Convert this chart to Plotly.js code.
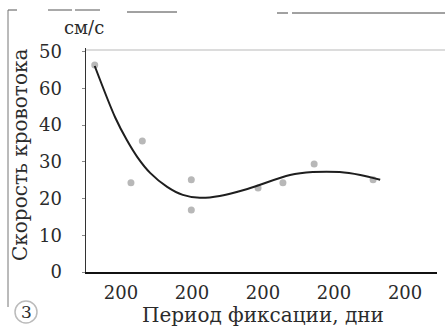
<!DOCTYPE html>
<html>
<head>
<meta charset="utf-8">
<script src="https://cdn.plot.ly/plotly-3.0.1.min.js"></script>
<style>html,body{margin:0;padding:0;background:#fff;}#chart{width:445px;height:327px;}</style>
</head>
<body>
<div id="chart"></div>
<script>
// Measured points (x in tick units, tick 1..5 all labelled "200")
var pointX = [0.63, 1.14, 1.30, 1.99, 1.99, 2.93, 3.28, 3.72, 4.55];
var pointY = [56.4, 24.3, 35.7, 25.1, 16.9, 22.9, 24.3, 29.4, 25.1];

// Fitted curve
var curveX = [0.63, 0.92, 1.08, 1.23, 1.41, 1.65, 1.87, 2.11, 2.39, 2.78, 3.38, 3.70, 4.08, 4.37, 4.65];
var curveY = [56.1, 42.0, 36.0, 31.3, 27.0, 23.2, 21.0, 20.2, 20.7, 22.6, 26.4, 27.2, 27.2, 26.4, 25.1];

var xTickVals = [1, 2, 3, 4, 5];
var xTickText = ["200", "200", "200", "200", "200"];
var yTickVals = [0, 10, 20, 30, 40, 50, 60];
var yTickText = ["0", "10", "20", "30", "40", "60", "50"];

var yTitle = "Скорость кровотока";
var xTitle = "Период фиксации, дни";
var unitText = "см/с";
var panelLabel = "3";

var L = 86, T = 48, W = 351, H = 224;
function px(p) { return (p - L) / W; }
function py(p) { return (T + H - p) / H; }

var font = "DejaVu Serif, Liberation Serif, serif";
var ink = "#2b2b2b";

var traces = [
  {x: pointX, y: pointY, mode: "markers", type: "scatter",
   marker: {size: 7, color: "#b8b8b8"}, hoverinfo: "skip"},
  {x: curveX, y: curveY, mode: "lines", type: "scatter",
   line: {color: "#1e1e1e", width: 2, shape: "spline", smoothing: 0.9}, hoverinfo: "skip"}
];

function hline(x0, x1, y, color, w) {
  return {type: "line", xref: "paper", yref: "paper", x0: px(x0), x1: px(x1), y0: py(y), y1: py(y),
          line: {color: color, width: w}};
}
function vline(x, y0, y1, color, w) {
  return {type: "line", xref: "paper", yref: "paper", x0: px(x), x1: px(x), y0: py(y0), y1: py(y1),
          line: {color: color, width: w}};
}

var layout = {
  width: 445, height: 327,
  margin: {l: L, r: 445 - L - W, t: T, b: 327 - T - H, pad: 0},
  paper_bgcolor: "#fff", plot_bgcolor: "#fff",
  showlegend: false,
  font: {family: font, size: 17, color: ink},
  xaxis: {range: [0.507, 5.45], tickvals: xTickVals, ticktext: xTickText,
          showgrid: false, zeroline: false, showline: true, linecolor: "#111", linewidth: 1.5,
          ticks: "", ticklabelstandoff: 4, tickfont: {family: font, size: 18, color: ink}, fixedrange: true},
  yaxis: {range: [0, 61], tickvals: yTickVals, ticktext: yTickText,
          showgrid: false, zeroline: false, showline: true, linecolor: "#333", linewidth: 1.5,
          ticks: "outside", ticklen: 3, tickcolor: "#888", ticklabelstandoff: 16,
          tickfont: {family: font, size: 18, color: ink}, fixedrange: true},
  shapes: [
    hline(86, 445, 50, "#dcdcdc", 2),
    hline(8, 17, 10, "#555", 1),
    vline(8, 10, 307, "#777", 1),
    hline(48, 72, 10, "#555", 1),
    hline(75, 100, 10, "#555", 1),
    hline(127, 177, 12, "#444", 1),
    hline(277, 288, 13, "#444", 1),
    hline(292, 445, 13, "#444", 1),
    {type: "circle", xref: "paper", yref: "paper", x0: px(15), x1: px(37), y0: py(323), y1: py(301),
     line: {color: "#bbb", width: 1.5}}
  ],
  annotations: [
    {text: unitText, xref: "paper", yref: "paper", x: px(84), y: py(27), showarrow: false,
     xanchor: "center", yanchor: "middle", font: {family: font, size: 18, color: ink}},
    {text: yTitle, xref: "paper", yref: "paper", x: px(20), y: py(155), showarrow: false, textangle: -90,
     xanchor: "center", yanchor: "middle", font: {family: font, size: 20, color: ink}},
    {text: xTitle, xref: "paper", yref: "paper", x: px(263), y: py(315), showarrow: false,
     xanchor: "center", yanchor: "middle", font: {family: font, size: 20, color: ink}},
    {text: panelLabel, xref: "paper", yref: "paper", x: px(26), y: py(312), showarrow: false,
     xanchor: "center", yanchor: "middle", font: {family: font, size: 17, color: ink}}
  ]
};

Plotly.newPlot("chart", traces, layout, {displayModeBar: false, staticPlot: true});
</script>
</body>
</html>
